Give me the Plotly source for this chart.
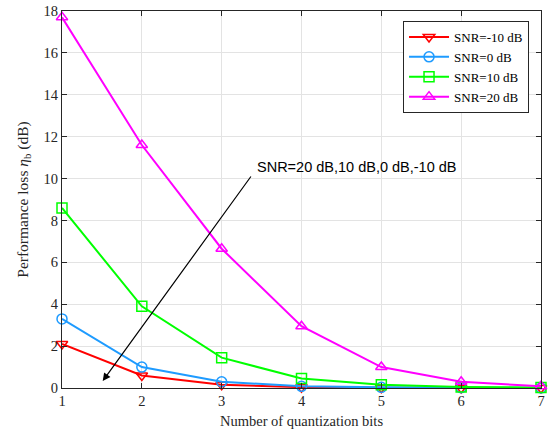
import plotly.graph_objects as go

bits = [1, 2, 3, 4, 5, 6, 7]
snr_m10 = [2.1, 0.6, 0.15, 0.04, 0.01, 0.0, 0.0]
snr_0 = [3.3, 1.0, 0.3, 0.08, 0.03, 0.01, 0.0]
snr_10 = [8.6, 3.9, 1.45, 0.45, 0.15, 0.05, 0.02]
snr_20 = [17.7, 11.6, 6.65, 2.95, 1.0, 0.3, 0.08]
names = ["SNR=-10 dB", "SNR=0 dB", "SNR=10 dB", "SNR=20 dB"]
colors = ["#FF0000", "#1E9BFF", "#00FF00", "#FF00FF"]
symbols = ["triangle-down-open", "circle-open", "square-open", "triangle-up-open"]
y_ticks = list(range(0, 19, 2))

SERIF = "Liberation Serif, Times New Roman"

fig = go.Figure()
for name, ys, c, s in zip(names, [snr_m10, snr_0, snr_10, snr_20], colors, symbols):
    fig.add_trace(go.Scatter(
        x=bits, y=ys, name=name, mode="lines+markers",
        line=dict(color=c, width=2),
        marker=dict(symbol=s, size=10, color=c, line=dict(color=c, width=1.5)),
        cliponaxis=False,
    ))

fig.add_annotation(
    x=1.51, y=0.33, ax=3.38, ay=10.17, xref="x", yref="y", axref="x", ayref="y",
    text="", showarrow=True, arrowhead=2, arrowsize=1.3, arrowwidth=1.2, arrowcolor="black",
)
fig.add_annotation(
    x=3.42, y=10.55, xref="x", yref="y", text="SNR=20 dB,10 dB,0 dB,-10 dB",
    showarrow=False, xanchor="left", yanchor="middle",
    font=dict(family="Liberation Sans, Arial", size=14.5, color="black"),
)

axis_common = dict(
    showline=True, linecolor="#262626", linewidth=1, mirror="ticks",
    ticks="inside", ticklen=5, tickcolor="#262626",
    showgrid=True, gridcolor="#E3E3E3", gridwidth=1, zeroline=False,
    tickfont=dict(family=SERIF, size=14.5, color="#262626"),
    automargin=False,
)
fig.update_xaxes(range=[1, 7], tickvals=bits, ticklabeloverflow="allow",
                 title=dict(text="Number of quantization bits", standoff=7,
                            font=dict(family=SERIF, size=14.5, color="#262626")), **axis_common)
fig.update_yaxes(range=[0, 18], tickvals=y_ticks,
                 title=dict(text="Performance loss <i>η</i><sub>b</sub> (dB)", standoff=11,
                            font=dict(family=SERIF, size=15.5, color="#262626")), **axis_common)

fig.update_layout(
    width=550, height=431,
    margin=dict(l=62, r=9, t=11, b=43),
    plot_bgcolor="white", paper_bgcolor="white",
    font=dict(family=SERIF, size=14.5, color="#262626"),
    legend=dict(x=0.975, y=0.9735, xanchor="right", yanchor="top",
                bgcolor="white", bordercolor="#262626", borderwidth=1,
                font=dict(family=SERIF, size=13, color="black"),
                itemwidth=40, tracegroupgap=0),
    showlegend=True,
)

fig.write_html("out.html", config={"displayModeBar": False},
               post_script="document.body.style.margin='0';document.body.style.padding='0';")
